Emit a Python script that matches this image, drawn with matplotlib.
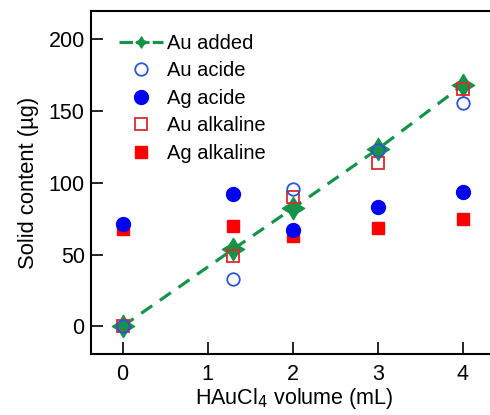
"""Solid content versus HAuCl4 volume, scatter with Au-added reference line."""

import matplotlib

matplotlib.use("Agg")
import matplotlib.pyplot as plt  # noqa: E402
from matplotlib.lines import Line2D  # noqa: E402
from matplotlib.path import Path  # noqa: E402

# data
volume = [0, 1.3, 2, 3, 4]
au_added = [0, 53.7, 82.2, 123.5, 168]
au_acide = [0, 32.7, 95.7, 123.0, 155.6]
ag_acide = [71.3, 92.4, 67.1, 83.4, 93.8]
au_alkaline = [0, 49.2, 89.9, 113.8, 165.2]
ag_alkaline = [67.6, 69.9, 62.9, 68.7, 75.0]

x_ticks = [0, 1, 2, 3, 4]
y_ticks = [0, 50, 100, 150, 200]

GREEN = "#16924a"
BLUE = "#0000f0"
BLUE_OPEN = "#2a55d8"
RED = "#ff0000"
RED_OPEN = "#dd2a2a"

plt.rcParams["font.family"] = ["Liberation Sans", "DejaVu Sans"]

# fat four-pointed star used for the Au added markers
k = 0.38
star = Path([(0, 1), (k, k), (1, 0), (k, -k), (0, -1), (-k, -k), (-1, 0), (-k, k), (0, 1)],
            [Path.MOVETO] + [Path.LINETO] * 7 + [Path.CLOSEPOLY])

fig = plt.figure(figsize=(4.9, 4.15), dpi=100)
ax = fig.add_axes([0.1857, 0.147, 0.83, 0.8265])

ax.plot(volume, au_added, color=GREEN, lw=2.3, dashes=(4.2, 2.9),
        marker=star, ms=16, mfc=GREEN, mec=GREEN, zorder=2)
ax.plot(volume, ag_alkaline, ls="none", marker="s", ms=9, mfc=RED, mec=RED, zorder=3)
ax.plot(volume, ag_acide, ls="none", marker="o", ms=10, mfc=BLUE, mec=BLUE, zorder=4)
ax.plot(volume, au_alkaline, ls="none", marker="s", ms=9, mfc="none", mec=RED_OPEN, mew=1.3, zorder=5)
ax.plot(volume, au_acide, ls="none", marker="o", ms=9, mfc="none", mec=BLUE_OPEN, mew=1.3, zorder=6)

ax.set_xlim(-0.372, 4.41)
ax.set_ylim(-19.3, 219.7)
ax.set_xticks(x_ticks)
ax.set_yticks(y_ticks)
ax.tick_params(direction="in", length=8.6, width=1.2, color="black", labelsize=15.5)
ax.tick_params(axis="x", pad=7)
ax.tick_params(axis="y", pad=4.5)
ax.spines["right"].set_visible(False)
for side in ("left", "top", "bottom"):
    ax.spines[side].set_linewidth(1.5)

ax.set_xlabel("HAuCl$_4$ volume (mL)", fontsize=15.5, labelpad=1)
ax.set_ylabel("Solid content (µg)", fontsize=15.8, labelpad=7)

handles = [
    Line2D([], [], color=GREEN, lw=2.3, dashes=(4.2, 1.0), marker=star, ms=8, mfc=GREEN, mec=GREEN),
    Line2D([], [], ls="none", marker="o", ms=9, mfc="none", mec=BLUE_OPEN, mew=1.3),
    Line2D([], [], ls="none", marker="o", ms=10, mfc=BLUE, mec=BLUE),
    Line2D([], [], ls="none", marker="s", ms=9, mfc="none", mec=RED_OPEN, mew=1.3),
    Line2D([], [], ls="none", marker="s", ms=9, mfc=RED, mec=RED),
]
labels = ["Au added", "Au acide", "Ag acide", "Au alkaline", "Ag alkaline"]
fig.legend(handles, labels, loc="upper left", bbox_to_anchor=(119 / 490, 1 - 34 / 415),
           frameon=False, fontsize=14.5, handlelength=2.2, handletextpad=0.2,
           labelspacing=0.42, borderpad=0, borderaxespad=0)

fig.savefig("out.png", dpi=100)
